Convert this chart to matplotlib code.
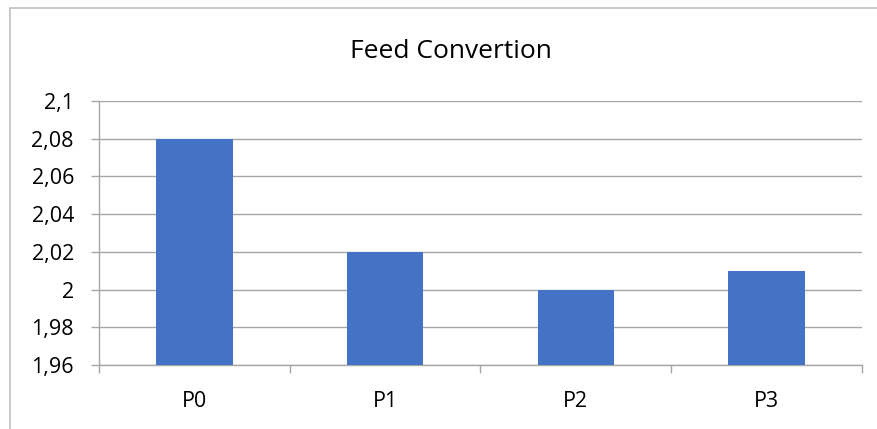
import matplotlib

matplotlib.use("Agg")
import matplotlib.patches as mpatches
import matplotlib.pyplot as plt
from matplotlib.ticker import FuncFormatter, FixedLocator

categories = ["P0", "P1", "P2", "P3"]
values = [2.08, 2.02, 2.00, 2.01]
y_ticks = [1.96, 1.98, 2.0, 2.02, 2.04, 2.06, 2.08, 2.1]

W, H = 878, 429
fig = plt.figure(figsize=(W / 100, H / 100), dpi=100)
plt.rcParams["font.family"] = ["Open Sans", "DejaVu Sans"]

# outer chart border
fig.patches.append(mpatches.Rectangle(
    (10 / W, -0.1), 1.2, (H - 8) / H + 0.1, transform=fig.transFigure,
    fill=False, edgecolor="#bfbfbf", linewidth=1.2))

ax = fig.add_axes([99 / W, (H - 365) / H, (862 - 99) / W, (365 - 101) / H])
x = list(range(len(categories)))
ax.bar(x, values, width=0.4, color="#4472c4", zorder=3)

ax.set_xlim(-0.5, len(categories) - 0.5)
ax.set_ylim(1.96, 2.1)
ax.set_yticks(y_ticks)
ax.yaxis.set_major_formatter(FuncFormatter(lambda v, _: f"{v:g}".replace(".", ",")))
ax.grid(axis="y", color="#a6a6a6", linewidth=1, zorder=0)

ax.set_xticks(x)
ax.set_xticklabels(categories, fontsize=15.5)
ax.tick_params(axis="x", length=0, pad=19)
ax.xaxis.set_minor_locator(FixedLocator([i - 0.5 for i in range(len(categories) + 1)]))
ax.tick_params(axis="x", which="minor", length=6, color="#a6a6a6", width=1)
ax.tick_params(axis="y", length=6, color="#a6a6a6", width=1, labelsize=15.5, pad=12)

for side in ["top", "right"]:
    ax.spines[side].set_visible(False)
for side in ["left", "bottom"]:
    ax.spines[side].set_color("#a6a6a6")
    ax.spines[side].set_linewidth(1)

fig.text(451 / W, 1 - 52 / H, "Feed Convertion", ha="center", va="center", fontsize=19)

fig.savefig("out.png", dpi=100, facecolor="white")
